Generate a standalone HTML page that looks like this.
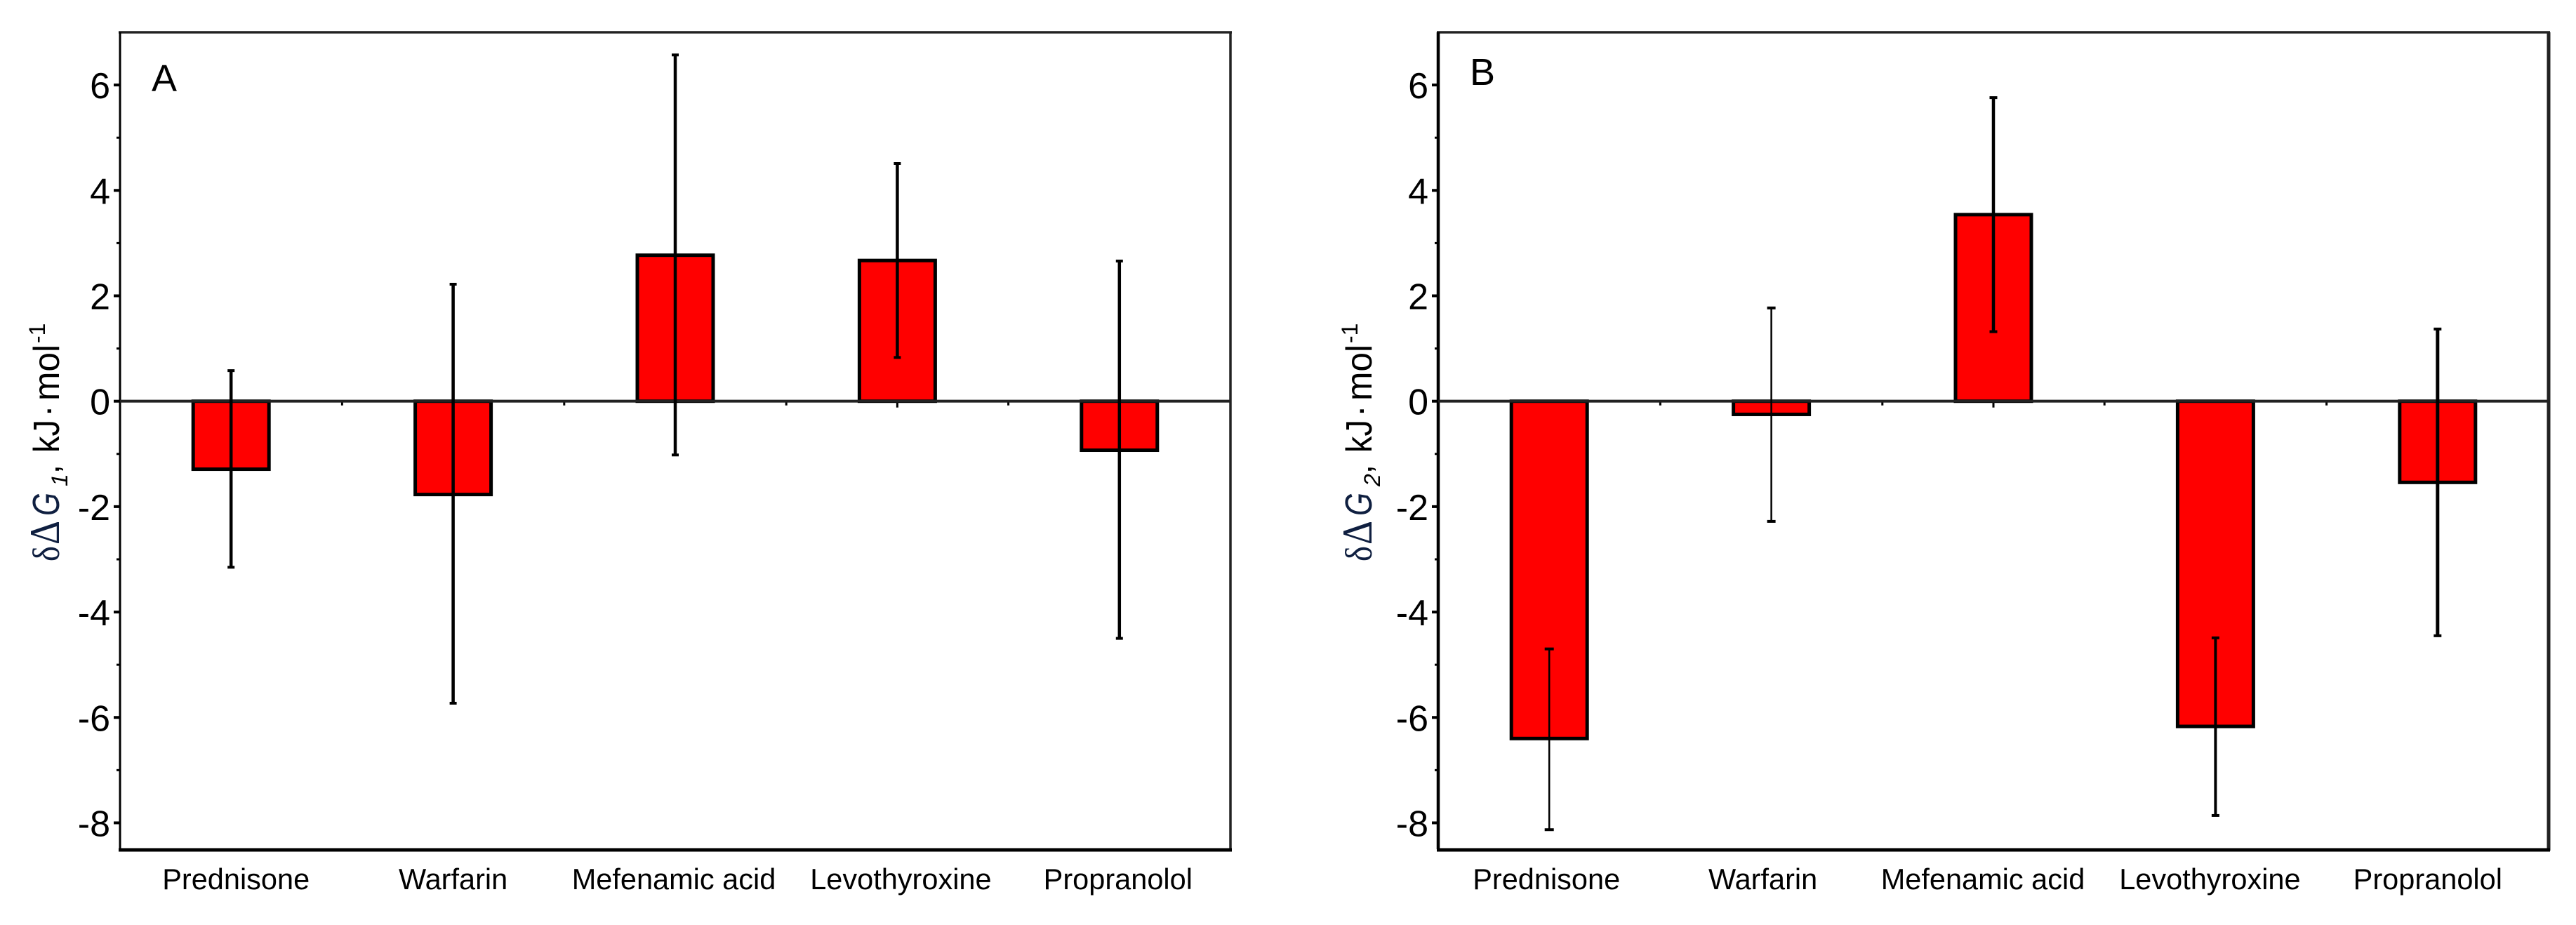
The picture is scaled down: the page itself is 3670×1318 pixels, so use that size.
<!DOCTYPE html>
<html lang="en">
<head>
<meta charset="utf-8">
<title>δΔG bar charts</title>
<style>
html,body{margin:0;padding:0;background:#fff;}
svg{display:block;}
text{font-family:"Liberation Sans",sans-serif;fill:#000;}
</style>
</head>
<body>
<svg id="figure" xmlns="http://www.w3.org/2000/svg" width="3670" height="1318" viewBox="0 0 3670 1318">
  <rect x="0" y="0" width="3670" height="1318" fill="#fff"/>
</svg>
<script>
const categories = ["Prednisone", "Warfarin", "Mefenamic acid", "Levothyroxine", "Propranolol"];
const yTickLabels = [6, 4, 2, 0, -2, -4, -6, -8];
const yMinorTicks = [5, 3, 1, -1, -3, -5, -7];
const valuesA = [-1.29, -1.77, 2.77, 2.67, -0.93];
const errHighA = [0.58, 2.22, 6.57, 4.51, 2.66];
const errLowA = [-3.15, -5.73, -1.02, 0.83, -4.50];
const valuesB = [-6.40, -0.25, 3.54, -6.17, -1.54];
const errHighB = [-4.70, 1.77, 5.76, -4.49, 1.37];
const errLowB = [-8.13, -2.28, 1.32, -7.86, -4.45];

const svgNS = "http://www.w3.org/2000/svg";
const svg = document.getElementById("figure");
const Y_MIN = -8.5, Y_MAX = 7, PLOT_TOP = 46, PLOT_BOTTOM = 1210;
const yScale = v => PLOT_TOP + (Y_MAX - v) * (PLOT_BOTTOM - PLOT_TOP) / (Y_MAX - Y_MIN);

function mk(parent, tag, attrs, text) {
  const el = document.createElementNS(svgNS, tag);
  for (const k in attrs) el.setAttribute(k, attrs[k]);
  if (text !== undefined) el.textContent = text;
  parent.appendChild(el);
  return el;
}

function drawPanel(p) {
  const left = p.left, right = p.left + 1582;
  const xScale = i => left + (i + 0.5) * (right - left) / categories.length;
  const zero = yScale(0);

  const g = mk(svg, "g", {});
  
  

  // y ticks + labels
  yTickLabels.forEach(v => {
    const t = mk(g, "line", {x1: left - 9, x2: left, y1: yScale(v), y2: yScale(v), stroke: "#000", "stroke-width": 4});
    
    
    const l = mk(g, "text", {x: left - 14, y: yScale(v) + 19, "text-anchor": "end", "font-size": 52}, String(v));
    
    
  });
  yMinorTicks.forEach(v => {
    const t = mk(g, "line", {x1: left - 5, x2: left, y1: yScale(v), y2: yScale(v), stroke: "#000", "stroke-width": 3});
    
    
  });

  // x ticks on the zero line
  categories.forEach((c, i) => {
    const t = mk(g, "line", {x1: xScale(i), x2: xScale(i), y1: zero, y2: zero + 9, stroke: "#000", "stroke-width": 3});
    
    
    if (i < categories.length - 1) {
      const m = mk(g, "line", {x1: xScale(i + 0.5), x2: xScale(i + 0.5), y1: zero, y2: zero + 6, stroke: "#000", "stroke-width": 3});
      
      
    }
  });

  // bars
  p.values.forEach((v, i) => {
    const y0 = Math.min(yScale(v), zero), y1 = Math.max(yScale(v), zero);
    const b = mk(g, "rect", {x: xScale(i) - 54, y: y0, width: 108, height: y1 - y0, fill: "#ff0000", stroke: "#000", "stroke-width": 5});
    
    
  });

  // frame
  const frameTop = mk(g, "line", {x1: left - 2, x2: right + 2, y1: PLOT_TOP, y2: PLOT_TOP, stroke: "#222", "stroke-width": 3.5});
  
  
  const frameLeft = mk(g, "line", {x1: left, x2: left, y1: PLOT_TOP, y2: PLOT_BOTTOM, stroke: "#000", "stroke-width": p.leftW});
  
  
  const frameRight = mk(g, "line", {x1: right, x2: right, y1: PLOT_TOP, y2: PLOT_BOTTOM + 2, stroke: "#222", "stroke-width": p.rightW});
  
  
  const frameBottom = mk(g, "line", {x1: left - 2, x2: right + 2, y1: PLOT_BOTTOM + 1, y2: PLOT_BOTTOM + 1, stroke: "#000", "stroke-width": 5});
  
  
  const zeroLine = mk(g, "line", {x1: left, x2: right, y1: zero, y2: zero, stroke: "#222", "stroke-width": 4});
  
  

  // error bars
  p.values.forEach((v, i) => {
    const x = xScale(i), w = p.errW[i], cw = p.capW[i];
    const s = mk(g, "line", {x1: x, x2: x, y1: yScale(p.errHigh[i]), y2: yScale(p.errLow[i]), stroke: "#000", "stroke-width": w});
    
    
    [p.errHigh[i], p.errLow[i]].forEach(e => {
      const c = mk(g, "line", {x1: x - cw / 2, x2: x + cw / 2, y1: yScale(e), y2: yScale(e), stroke: "#000", "stroke-width": 4});
      
      
    });
  });

  // category labels
  categories.forEach((c, i) => {
    const l = mk(g, "text", {x: xScale(i) + p.labelNudge[i], y: 1267, "text-anchor": "middle", "font-size": 41.5}, c);
    
    
  });

  // panel letter
  const letter = mk(g, "text", {x: p.letterX, y: p.letterY, "font-size": 54}, p.id);
  
  

  // y axis title (rotated; glyph runs placed individually)
  const title = mk(g, "g", {transform: "translate(" + p.titleX + ",800) rotate(-90)"});
  
  
  const navy = "#0f1f40";
  mk(title, "text", {x: 0, y: 0, "font-size": 54, textLength: 22, lengthAdjust: "spacingAndGlyphs", style: 'font-family:"Liberation Serif",serif;fill:' + navy}, "δ");
  mk(title, "text", {x: 24, y: 0, "font-size": 60, textLength: 34, lengthAdjust: "spacingAndGlyphs", style: 'font-family:"Liberation Serif",serif;fill:' + navy}, "Δ");
  mk(title, "text", {x: 65, y: 0, "font-size": 54, textLength: 33, lengthAdjust: "spacingAndGlyphs", "font-style": "italic", style: "fill:" + navy}, "G");
  mk(title, "text", {x: 107, y: 12, "font-size": 32, "font-style": "italic"}, p.subscript);
  mk(title, "text", {x: 125, y: 0, "font-size": 46}, ",");
  mk(title, "text", {x: 155, y: 0, "font-size": 52, textLength: 47, lengthAdjust: "spacingAndGlyphs"}, "kJ");
  mk(title, "text", {x: 206, y: 0, "font-size": 50}, "·");
  mk(title, "text", {x: 229, y: 0, "font-size": 52, textLength: 80, lengthAdjust: "spacingAndGlyphs"}, "mol");
  mk(title, "text", {x: 311, y: -20, "font-size": 32}, "-1");
}

drawPanel({
  id: "A", left: 171, values: valuesA, errHigh: errHighA, errLow: errLowA,
  errW: [4.5, 4.5, 4.5, 4.5, 4.5], capW: [10, 10, 10, 10, 10],
  labelNudge: [7, 0, -2, 5, -2], leftW: 3, rightW: 3.5,
  letterX: 216, letterY: 130, titleX: 84, subscript: "1"
});
drawPanel({
  id: "B", left: 2049, values: valuesB, errHigh: errHighB, errLow: errLowB,
  errW: [2.5, 2.5, 4.5, 4, 5], capW: [13, 12, 11, 11, 11],
  labelNudge: [-4, -12, -15, -8, -14], leftW: 4.5, rightW: 5,
  letterX: 2094, letterY: 121, titleX: 1954, subscript: "2"
});
</script>
</body>
</html>
